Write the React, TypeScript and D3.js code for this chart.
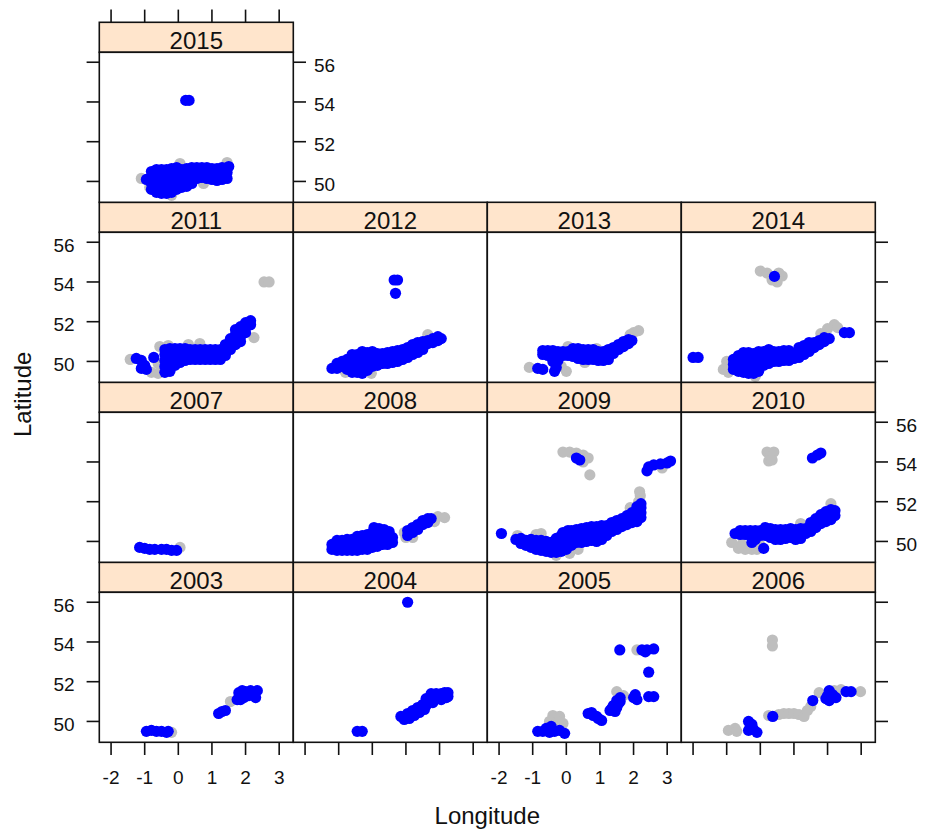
import React from 'react';
import * as d3 from 'd3';

type P = [number, number];

const LON_TICKS = [-2, -1, 0, 1, 2, 3];
const LAT_TICKS = [50, 52, 54, 56];
const LON_DOMAIN: [number, number] = [-2.35, 3.42];
const LAT_DOMAIN: [number, number] = [48.95, 56.5];

const grey2003: P[] = [[-0.2, 49.45], [1.55, 51.0]];
const blue2003: P[] = [
  [-0.95, 49.5], [-0.8, 49.55], [-0.65, 49.5], [-0.5, 49.5], [-0.35, 49.45], [-0.3, 49.5],
  [1.2, 50.4], [1.3, 50.5], [1.4, 50.55],
  [1.75, 51.1], [1.85, 51.35], [1.95, 51.2], [2.0, 51.5], [2.1, 51.3], [2.25, 51.45], [2.3, 51.2],
  [1.9, 51.55], [2.15, 51.55], [1.8, 51.45], [2.05, 51.4], [2.2, 51.35], [1.85, 51.1], [2.35, 51.55],
];

const grey2004: P[] = [];
const blue2004: P[] = [
  [1.05, 56.0], [-0.45, 49.5], [-0.3, 49.5],
  [0.85, 50.25], [0.95, 50.1], [1.05, 50.4], [1.1, 50.15], [1.2, 50.55], [1.25, 50.3], [1.35, 50.7], [1.4, 50.45],
  [1.5, 50.85], [1.55, 50.6], [1.65, 51.0], [1.75, 51.2], [1.8, 50.95], [1.95, 51.25], [2.05, 51.1], [2.1, 51.35],
  [2.2, 51.2], [2.25, 51.45], [1.6, 51.15], [1.9, 51.4], [1.0, 50.25], [1.15, 50.35], [1.3, 50.5], [1.45, 50.65],
  [1.6, 50.8], [1.7, 51.05], [1.85, 51.15], [2.0, 51.3], [2.15, 51.45], [1.75, 51.4], [2.05, 51.4], [2.25, 51.25],
];

const grey2005: P[] = [
  [2.1, 53.6], [1.5, 51.5], [1.7, 51.3], [-0.4, 50.3], [-0.2, 50.25], [-0.3, 50.05], [-0.1, 49.9], [-0.5, 50.0],
];
const blue2005: P[] = [
  [1.59, 53.6], [2.25, 53.6], [2.4, 53.6], [2.6, 53.65], [2.35, 53.5], [2.45, 52.48],
  [2.45, 51.25], [2.6, 51.25], [2.05, 51.35], [2.1, 51.1], [2.0, 51.2],
  [1.3, 50.55], [1.4, 50.8], [1.5, 51.05], [1.6, 51.2], [1.45, 50.5], [1.55, 50.9], [1.35, 50.65], [1.5, 50.7], [1.6, 51.0],
  [0.65, 50.4], [0.8, 50.3], [0.95, 50.15], [1.05, 50.05], [0.75, 50.45], [0.9, 50.25],
  [-0.85, 49.5], [-0.6, 49.65], [-0.5, 49.45], [-0.35, 49.5], [-0.2, 49.55], [-0.05, 49.4], [-0.45, 49.75], [-0.7, 49.5],
];

const grey2006: P[] = [
  [0.36, 54.1], [0.36, 53.8], [-0.95, 49.55], [-0.75, 49.65], [-0.7, 49.5],
  [0.25, 50.3], [0.55, 50.35], [0.7, 50.4], [0.85, 50.4], [1.0, 50.4], [1.15, 50.35], [1.3, 50.25], [1.4, 50.55], [1.5, 50.75],
  [1.75, 51.45], [2.2, 51.55], [2.4, 51.6], [2.98, 51.5],
];
const blue2006: P[] = [
  [-0.35, 50.0], [-0.3, 49.7], [-0.2, 49.6], [-0.1, 49.45], [-0.25, 49.85], [-0.35, 49.55],
  [0.37, 50.25], [1.56, 51.05],
  [2.05, 51.55], [2.0, 51.3], [2.1, 51.2], [2.25, 51.2], [2.05, 51.05], [1.95, 51.15], [2.15, 51.35],
  [2.55, 51.5], [2.7, 51.5],
];

const grey2007: P[] = [[0.05, 49.7]];
const blue2007: P[] = [
  [-1.15, 49.7], [-1.0, 49.65], [-0.85, 49.6], [-0.7, 49.6], [-0.5, 49.6], [-0.35, 49.6], [-0.2, 49.55], [-0.05, 49.55],
];

const grey2008: P[] = [[0.95, 50.45], [1.2, 50.2], [1.95, 51.25], [2.15, 51.2], [1.85, 51.0], [1.0, 50.2]];
const blue2008: P[] = [
  [-1.2, 49.6], [-1.2, 49.85], [-1.05, 49.55], [-1.05, 49.8], [-1.05, 50.05], [-0.9, 49.55], [-0.9, 49.8], [-0.9, 50.05],
  [-0.75, 49.55], [-0.75, 49.8], [-0.75, 50.1], [-0.6, 49.55], [-0.6, 49.8], [-0.6, 50.1],
  [-0.45, 49.55], [-0.45, 49.8], [-0.45, 50.1], [-0.45, 50.25], [-0.3, 49.6], [-0.3, 49.85], [-0.3, 50.1], [-0.3, 50.3],
  [-0.15, 49.6], [-0.15, 49.85], [-0.15, 50.15], [-0.15, 50.35],
  [0.0, 49.7], [0.0, 49.95], [0.0, 50.2], [0.0, 50.45], [0.05, 50.7], [0.15, 49.75], [0.15, 50.0], [0.15, 50.25],
  [0.15, 50.5], [0.2, 50.65], [0.3, 49.85], [0.3, 50.1], [0.3, 50.35], [0.35, 50.6], [0.45, 49.85], [0.45, 50.05],
  [0.45, 50.3], [0.5, 50.5], [0.6, 49.95], [0.6, 50.2],
  [1.05, 50.3], [1.05, 50.55], [1.2, 50.45], [1.2, 50.7], [1.35, 50.6], [1.35, 50.85], [1.5, 50.85], [1.5, 51.05],
  [1.65, 50.95], [1.65, 51.15], [1.75, 51.15],
];

const grey2009: P[] = [
  [-0.1, 54.5], [0.1, 54.5], [0.3, 54.45], [0.5, 54.35], [0.65, 54.2], [0.5, 54.0], [0.7, 53.35],
  [2.85, 53.7], [2.18, 52.5], [2.2, 52.3],
  [-1.45, 50.3], [-0.9, 50.35], [-0.75, 50.4], [0.1, 49.4], [-0.3, 49.3], [0.35, 49.6], [1.9, 51.7], [2.15, 52.0],
];
const blue2009: P[] = [
  [-1.93, 50.4], [0.3, 54.2], [0.4, 54.1],
  [2.4, 53.55], [2.45, 53.75], [2.6, 53.85], [2.8, 53.9], [3.0, 53.95], [3.1, 54.05],
  [-1.5, 50.1], [-1.35, 49.9], [-1.35, 50.15], [-1.2, 49.8], [-1.2, 50.05], [-1.05, 49.7], [-1.05, 49.95], [-1.05, 50.1],
  [-0.9, 49.6], [-0.9, 49.85], [-0.9, 50.05], [-0.75, 49.55], [-0.75, 49.8], [-0.75, 50.05],
  [-0.6, 49.5], [-0.6, 49.75], [-0.6, 50.0], [-0.45, 49.45], [-0.45, 49.7], [-0.45, 49.95],
  [-0.3, 49.45], [-0.3, 49.7], [-0.3, 49.95], [-0.3, 50.15], [-0.15, 49.5], [-0.15, 49.75], [-0.15, 50.0],
  [-0.15, 50.3], [-0.1, 50.45], [0.0, 49.6], [0.0, 49.85], [0.0, 50.1], [0.0, 50.35], [0.05, 50.55],
  [0.15, 49.8], [0.15, 50.05], [0.15, 50.3], [0.15, 50.55], [0.3, 49.95], [0.3, 50.2], [0.3, 50.45], [0.3, 50.6],
  [0.45, 49.95], [0.45, 50.2], [0.45, 50.45], [0.45, 50.65], [0.6, 50.0], [0.6, 50.25], [0.6, 50.5], [0.6, 50.7],
  [0.75, 50.05], [0.75, 50.3], [0.75, 50.55], [0.75, 50.75], [0.9, 50.0], [0.9, 50.25], [0.9, 50.5], [0.9, 50.75],
  [1.05, 50.1], [1.05, 50.35], [1.05, 50.6], [1.05, 50.8], [1.2, 50.3], [1.2, 50.55], [1.2, 50.8],
  [1.35, 50.5], [1.35, 50.75], [1.35, 50.95], [1.5, 50.6], [1.5, 50.85], [1.5, 51.05],
  [1.65, 50.75], [1.65, 51.0], [1.65, 51.15], [1.8, 50.85], [1.8, 51.1], [1.8, 51.3],
  [1.95, 50.95], [1.95, 51.2], [1.95, 51.45], [2.1, 51.0], [2.1, 51.25], [2.1, 51.5], [2.1, 51.75],
  [2.22, 51.2], [2.22, 51.45], [2.22, 51.7], [2.22, 51.9],
];

const grey2010: P[] = [
  [0.2, 54.5], [0.4, 54.5], [0.3, 54.25], [0.25, 54.05], [0.35, 54.1],
  [-0.85, 49.95], [-0.65, 49.65], [-0.45, 49.6], [-0.25, 49.6], [-0.1, 49.6], [0.0, 49.8], [-0.55, 49.85],
  [1.2, 50.9], [2.1, 51.9],
];
const blue2010: P[] = [
  [1.55, 54.2], [1.7, 54.35], [1.8, 54.45],
  [-0.75, 50.4], [-0.6, 50.35], [-0.6, 50.55], [-0.45, 50.35], [-0.45, 50.55], [-0.3, 50.3], [-0.3, 50.55],
  [-0.15, 50.1], [-0.15, 50.35], [-0.15, 50.55], [0.0, 50.3], [0.0, 50.55], [0.15, 50.3], [0.15, 50.55], [0.15, 50.7],
  [0.3, 50.2], [0.3, 50.45], [0.3, 50.65], [0.45, 50.1], [0.45, 50.35], [0.45, 50.6], [0.6, 50.1], [0.6, 50.35],
  [0.6, 50.6], [0.75, 50.15], [0.75, 50.4], [0.75, 50.6], [0.9, 50.2], [0.9, 50.45], [0.9, 50.65],
  [1.05, 50.1], [1.05, 50.35], [1.05, 50.6], [1.2, 50.15], [1.2, 50.4], [1.2, 50.65], [1.35, 50.4], [1.35, 50.65],
  [1.5, 50.5], [1.5, 50.75], [1.5, 50.95], [1.65, 50.7], [1.65, 50.95], [1.65, 51.15], [1.8, 50.9], [1.8, 51.15],
  [1.8, 51.35], [1.95, 51.0], [1.95, 51.25], [1.95, 51.5], [2.1, 51.1], [2.1, 51.35], [2.1, 51.6],
  [2.22, 51.3], [2.22, 51.55], [-0.25, 49.95], [0.1, 49.65],
];

const grey2011: P[] = [
  [2.55, 54.0], [2.7, 54.0], [2.25, 51.2], [-1.43, 50.1], [-0.8, 49.45], [-0.6, 49.4],
  [-0.55, 50.75], [-0.3, 50.8], [0.3, 50.85], [-0.6, 49.9], [0.64, 50.9],
];
const blue2011: P[] = [
  [-1.25, 50.15], [-1.1, 50.05], [-1.0, 49.8], [-1.1, 49.65], [-0.95, 49.6], [-0.73, 50.2],
  [-0.4, 49.45], [-0.4, 49.75], [-0.4, 50.05], [-0.4, 50.35], [-0.4, 50.6],
  [-0.25, 49.5], [-0.25, 49.8], [-0.25, 50.1], [-0.25, 50.4], [-0.25, 50.65],
  [-0.1, 49.8], [-0.1, 50.1], [-0.1, 50.4], [-0.1, 50.65], [0.05, 49.95], [0.05, 50.2], [0.05, 50.45], [0.05, 50.65],
  [0.2, 50.05], [0.2, 50.3], [0.2, 50.55], [0.2, 50.65],
  [0.35, 50.1], [0.35, 50.35], [0.35, 50.6], [0.5, 50.1], [0.5, 50.35], [0.5, 50.6], [0.65, 50.1], [0.65, 50.35],
  [0.65, 50.6], [0.8, 50.1], [0.8, 50.35], [0.8, 50.6], [0.95, 50.1], [0.95, 50.35], [0.95, 50.6],
  [1.1, 50.1], [1.1, 50.35], [1.1, 50.6], [1.25, 50.1], [1.25, 50.35], [1.25, 50.6],
  [1.4, 50.3], [1.4, 50.6], [1.4, 50.85], [1.55, 50.6], [1.55, 50.9], [1.55, 51.15],
  [1.7, 50.85], [1.7, 51.1], [1.7, 51.35], [1.7, 51.6], [1.85, 51.0], [1.85, 51.25], [1.85, 51.5], [1.85, 51.75],
  [2.0, 51.45], [2.0, 51.7], [2.0, 51.95], [2.15, 51.85], [2.15, 52.05],
];

const grey2012: P[] = [[1.65, 51.35], [-0.8, 49.45], [-0.03, 49.4], [0.4, 49.9]];
const blue2012: P[] = [
  [0.65, 54.1], [0.75, 54.1], [0.69, 53.43],
  [-1.2, 49.65], [-1.05, 49.65], [-1.05, 49.9], [-0.9, 49.75], [-0.9, 50.0], [-0.75, 49.6], [-0.75, 49.85], [-0.75, 50.1],
  [-0.6, 49.45], [-0.6, 49.75], [-0.6, 50.05], [-0.6, 50.35], [-0.45, 49.45], [-0.45, 49.75], [-0.45, 50.05], [-0.45, 50.35],
  [-0.3, 49.4], [-0.3, 49.7], [-0.3, 50.0], [-0.3, 50.3], [-0.3, 50.5], [-0.15, 49.55], [-0.15, 49.85], [-0.15, 50.15],
  [-0.15, 50.45], [0.0, 49.75], [0.0, 50.05], [0.0, 50.35], [0.0, 50.5], [0.15, 49.8], [0.15, 50.1], [0.15, 50.4],
  [0.3, 49.9], [0.3, 50.15], [0.3, 50.4], [0.45, 49.9], [0.45, 50.15], [0.45, 50.45], [0.6, 49.95], [0.6, 50.2],
  [0.6, 50.5], [0.75, 50.0], [0.75, 50.25], [0.75, 50.55], [0.9, 50.1], [0.9, 50.35], [0.9, 50.6],
  [1.05, 50.2], [1.05, 50.45], [1.05, 50.7], [1.2, 50.35], [1.2, 50.6], [1.2, 50.85], [1.35, 50.45], [1.35, 50.7],
  [1.35, 50.95], [1.5, 50.6], [1.5, 50.85], [1.5, 51.0], [1.65, 50.9], [1.65, 51.05], [1.8, 50.95], [1.8, 51.15],
  [1.95, 51.05], [1.95, 51.25], [2.05, 51.15],
];

const grey2013: P[] = [
  [-1.1, 49.7], [0.0, 49.5], [-0.15, 49.75], [0.05, 50.75], [0.9, 50.65], [2.15, 51.55], [2.0, 51.45],
  [1.9, 51.35], [1.25, 50.1], [0.55, 49.95],
];
const blue2013: P[] = [
  [-0.85, 49.65], [-0.7, 49.6], [-0.35, 49.5], [-0.3, 49.7],
  [-0.7, 50.35], [-0.7, 50.55], [-0.55, 50.3], [-0.55, 50.55], [-0.4, 50.0], [-0.4, 50.3], [-0.4, 50.55],
  [-0.25, 50.05], [-0.25, 50.3], [-0.25, 50.5], [-0.1, 50.3], [-0.1, 50.5], [0.05, 50.3], [0.05, 50.5],
  [0.2, 50.25], [0.2, 50.5], [0.2, 50.65], [0.35, 50.15], [0.35, 50.4], [0.35, 50.65], [0.5, 50.1], [0.5, 50.35],
  [0.5, 50.6], [0.65, 50.1], [0.65, 50.35], [0.65, 50.6], [0.8, 50.1], [0.8, 50.35], [0.8, 50.6],
  [0.95, 50.05], [0.95, 50.3], [0.95, 50.5], [1.1, 50.05], [1.1, 50.3], [1.1, 50.5], [1.25, 50.1], [1.25, 50.35],
  [1.25, 50.6], [1.4, 50.4], [1.4, 50.7], [1.55, 50.6], [1.55, 50.85], [1.7, 50.75], [1.7, 51.0],
  [1.85, 50.9], [1.85, 51.1], [1.95, 51.05],
];

const grey2014: P[] = [
  [0.0, 54.55], [0.2, 54.45], [0.35, 54.1], [0.5, 54.0], [0.65, 54.3], [0.55, 54.45],
  [-1.1, 49.6], [-1.0, 50.0], [-0.95, 49.45], [-0.15, 49.25], [2.0, 51.65], [2.2, 51.85], [2.3, 51.7], [1.8, 51.4],
];
const blue2014: P[] = [
  [-2.0, 50.2], [-1.85, 50.2], [0.42, 54.28], [2.5, 51.45], [2.65, 51.45],
  [-0.8, 49.6], [-0.8, 49.85], [-0.8, 50.1], [-0.65, 49.5], [-0.65, 49.75], [-0.65, 50.0], [-0.65, 50.3],
  [-0.5, 49.45], [-0.5, 49.7], [-0.5, 49.95], [-0.5, 50.2], [-0.5, 50.45], [-0.35, 49.4], [-0.35, 49.65],
  [-0.35, 49.9], [-0.35, 50.15], [-0.35, 50.45], [-0.2, 49.4], [-0.2, 49.65], [-0.2, 49.9], [-0.2, 50.15],
  [-0.2, 50.4], [-0.05, 49.5], [-0.05, 49.75], [-0.05, 50.0], [-0.05, 50.25], [-0.05, 50.5],
  [0.1, 49.8], [0.1, 50.05], [0.1, 50.3], [0.1, 50.5], [0.25, 49.9], [0.25, 50.15], [0.25, 50.4], [0.25, 50.6],
  [0.4, 50.0], [0.4, 50.25], [0.4, 50.5], [0.55, 50.0], [0.55, 50.25], [0.55, 50.5], [0.7, 50.05], [0.7, 50.3],
  [0.7, 50.55], [0.85, 50.05], [0.85, 50.3], [0.85, 50.55], [1.0, 50.15], [1.0, 50.4], [1.15, 50.2], [1.15, 50.45],
  [1.15, 50.7], [1.3, 50.35], [1.3, 50.6], [1.3, 50.8], [1.45, 50.5], [1.45, 50.75], [1.45, 50.95],
  [1.6, 50.7], [1.6, 50.95], [1.75, 50.85], [1.75, 51.05], [1.9, 51.0], [1.9, 51.2], [2.05, 51.15],
];

const grey2015: P[] = [[-1.1, 50.15], [-0.2, 49.3], [0.05, 50.9], [1.45, 50.95], [0.75, 49.9], [-0.85, 49.7]];
const blue2015: P[] = [
  [0.22, 54.08], [0.32, 54.08],
  [-0.95, 50.1], [-0.8, 49.6], [-0.8, 49.9], [-0.8, 50.2], [-0.8, 50.5],
  [-0.65, 49.45], [-0.65, 49.75], [-0.65, 50.05], [-0.65, 50.35], [-0.65, 50.6],
  [-0.5, 49.4], [-0.5, 49.7], [-0.5, 50.0], [-0.5, 50.3], [-0.5, 50.6],
  [-0.35, 49.4], [-0.35, 49.7], [-0.35, 50.0], [-0.35, 50.3], [-0.35, 50.6],
  [-0.2, 49.45], [-0.2, 49.75], [-0.2, 50.05], [-0.2, 50.35], [-0.2, 50.65],
  [-0.05, 49.6], [-0.05, 49.9], [-0.05, 50.2], [-0.05, 50.5], [-0.05, 50.7],
  [0.1, 49.7], [0.1, 50.0], [0.1, 50.3], [0.1, 50.6], [0.25, 49.75], [0.25, 50.05], [0.25, 50.35], [0.25, 50.65],
  [0.4, 49.9], [0.4, 50.2], [0.4, 50.5], [0.4, 50.7], [0.55, 50.15], [0.55, 50.45], [0.55, 50.7],
  [0.7, 50.2], [0.7, 50.5], [0.7, 50.7], [0.85, 50.15], [0.85, 50.45], [0.85, 50.7],
  [1.0, 50.1], [1.0, 50.4], [1.0, 50.65], [1.15, 50.05], [1.15, 50.35], [1.15, 50.65],
  [1.3, 50.1], [1.3, 50.4], [1.3, 50.7], [1.45, 50.15], [1.45, 50.45], [1.5, 50.75],
];

const PANELS = [
  { year: 2003, col: 0, row: 0, grey: grey2003, blue: blue2003 },
  { year: 2004, col: 1, row: 0, grey: grey2004, blue: blue2004 },
  { year: 2005, col: 2, row: 0, grey: grey2005, blue: blue2005 },
  { year: 2006, col: 3, row: 0, grey: grey2006, blue: blue2006 },
  { year: 2007, col: 0, row: 1, grey: grey2007, blue: blue2007 },
  { year: 2008, col: 1, row: 1, grey: grey2008, blue: blue2008 },
  { year: 2009, col: 2, row: 1, grey: grey2009, blue: blue2009 },
  { year: 2010, col: 3, row: 1, grey: grey2010, blue: blue2010 },
  { year: 2011, col: 0, row: 2, grey: grey2011, blue: blue2011 },
  { year: 2012, col: 1, row: 2, grey: grey2012, blue: blue2012 },
  { year: 2013, col: 2, row: 2, grey: grey2013, blue: blue2013 },
  { year: 2014, col: 3, row: 2, grey: grey2014, blue: blue2014 },
  { year: 2015, col: 0, row: 3, grey: grey2015, blue: blue2015 },
];

const LEFT = 99.3;
const TOP = 22.3;
const PW = 194;
const PH = 150;
const SH = 30;
const ROWSTEP = 180;
const TICK = 12.7;
const FONT = '"Liberation Sans", Arial, sans-serif';
const INK = '#111';

function geom(col: number, row: number) {
  const x0 = LEFT + col * PW;
  const sTop = TOP + (3 - row) * ROWSTEP;
  const pTop = sTop + SH;
  const xs = d3.scaleLinear().domain(LON_DOMAIN).range([x0, x0 + PW]);
  const ys = d3.scaleLinear().domain(LAT_DOMAIN).range([pTop + PH, pTop]);
  return { x0, sTop, pTop, xs, ys };
}

export default function App() {
  const els: React.ReactNode[] = [];
  const R = 5.6;

  PANELS.forEach((p) => {
    const { x0, sTop, pTop, xs, ys } = geom(p.col, p.row);
    const cid = `clip${p.year}`;
    els.push(
      <g key={`p${p.year}`}>
        <clipPath id={cid}>
          <rect x={x0} y={pTop} width={PW} height={PH} />
        </clipPath>
        <rect x={x0} y={sTop} width={PW} height={SH} fill="#ffe5cc" stroke={INK} strokeWidth={1.6} />
        <text x={x0 + PW / 2} y={sTop + SH - 3.8} textAnchor="middle" fontSize={24} fontFamily={FONT} fill={INK}>
          {p.year}
        </text>
        <rect x={x0} y={pTop} width={PW} height={PH} fill="#fff" />
        <g clipPath={`url(#${cid})`}>
          {p.grey.map((d, i) => (
            <circle key={`g${i}`} cx={xs(d[0])} cy={ys(d[1])} r={R} fill="#bebebe" />
          ))}
          {p.blue.map((d, i) => (
            <circle key={`b${i}`} cx={xs(d[0])} cy={ys(d[1])} r={R} fill="#0000ff" />
          ))}
        </g>
        <rect x={x0} y={pTop} width={PW} height={PH} fill="none" stroke={INK} strokeWidth={1.6} />
      </g>
    );
  });

  // y axes
  for (let row = 0; row < 4; row++) {
    const lastCol = row === 3 ? 0 : 3;
    const { ys } = geom(0, row);
    const xl = LEFT;
    const xr = LEFT + (lastCol + 1) * PW;
    const leftLabels = row % 2 === 0;
    LAT_TICKS.forEach((t) => {
      const y = ys(t);
      els.push(<line key={`yl${row}-${t}`} x1={xl - TICK} x2={xl} y1={y} y2={y} stroke={INK} strokeWidth={1.6} />);
      els.push(<line key={`yr${row}-${t}`} x1={xr} x2={xr + TICK} y1={y} y2={y} stroke={INK} strokeWidth={1.6} />);
      if (leftLabels) {
        els.push(
          <text key={`ylt${row}-${t}`} x={xl - TICK - 12} y={y + 9.5} textAnchor="end" fontSize={19} fontFamily={FONT} fill={INK}>
            {t}
          </text>
        );
      } else {
        els.push(
          <text key={`yrt${row}-${t}`} x={xr + TICK + 8} y={y + 9.5} textAnchor="start" fontSize={19} fontFamily={FONT} fill={INK}>
            {t}
          </text>
        );
      }
    });
  }

  // bottom x axes
  for (let col = 0; col < 4; col++) {
    const { xs, pTop } = geom(col, 0);
    const yb = pTop + PH;
    LON_TICKS.forEach((t) => {
      const x = xs(t);
      els.push(<line key={`xb${col}-${t}`} x1={x} x2={x} y1={yb} y2={yb + TICK} stroke={INK} strokeWidth={1.6} />);
      if (col % 2 === 0) {
        els.push(
          <text key={`xbt${col}-${t}`} x={x} y={yb + 41.5} textAnchor="middle" fontSize={19} fontFamily={FONT} fill={INK}>
            {t}
          </text>
        );
      }
    });
  }

  // top x axis (only above 2015)
  {
    const { xs, sTop } = geom(0, 3);
    LON_TICKS.forEach((t) => {
      const x = xs(t);
      els.push(<line key={`xt-${t}`} x1={x} x2={x} y1={sTop - TICK} y2={sTop} stroke={INK} strokeWidth={1.6} />);
    });
  }

  const midX = LEFT + 2 * PW;
  const midY = TOP + SH + (3 * ROWSTEP + PH) / 2 - 3;

  return (
    <svg
      width={926}
      height={830}
      viewBox="0 0 926 830"
      style={{ position: 'absolute', left: 0, top: 0, background: '#fff' }}
    >
      <rect x={0} y={0} width={926} height={830} fill="#fff" />
      {els}
      <text x={midX} y={824} textAnchor="middle" fontSize={24} fontFamily={FONT} fill={INK}>
        Longitude
      </text>
      <text
        transform={`translate(31, ${midY}) rotate(-90)`}
        textAnchor="middle"
        fontSize={24}
        fontFamily={FONT}
        fill={INK}
      >
        Latitude
      </text>
    </svg>
  );
}
